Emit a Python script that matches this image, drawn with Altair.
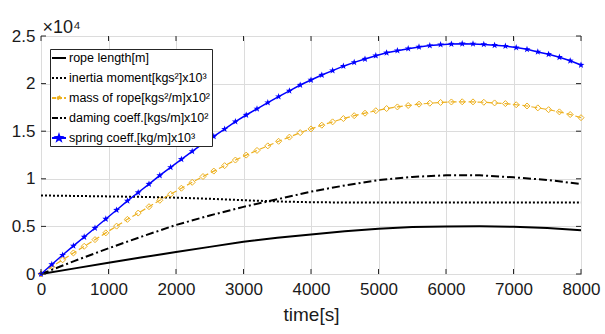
import altair as alt
import pandas as pd

# ---------------- data ----------------
T_MARKED = list(range(0, 8001, 160))
SPRING = [0, 1000, 1990, 2950, 3890, 4830, 5780, 6720, 7680, 8560,
          9450, 10350, 11200, 12050, 12880, 13690, 14450, 15220, 16000, 16700,
          17350, 18000, 18630, 19230, 19850, 20380, 20900, 21360, 21830, 22230,
          22580, 22930, 23240, 23460, 23670, 23850, 23990, 24090, 24160, 24190,
          24170, 24120, 24030, 23940, 23780, 23600, 23330, 23080, 22770, 22400,
          21950]
MASS = [0, 750, 1490, 2210, 2910, 3610, 4320, 5030, 5740, 6400,
        7070, 7740, 8380, 9010, 9630, 10240, 10810, 11380, 11970, 12490,
        12980, 13460, 13940, 14380, 14850, 15240, 15630, 15980, 16330, 16630,
        16890, 17150, 17380, 17550, 17700, 17840, 17940, 18020, 18070, 18090,
        18080, 18040, 17970, 17900, 17780, 17650, 17450, 17260, 17030, 16750,
        16420]
T_BLACK = list(range(0, 8001, 500))
ROPE = [0, 590, 1180, 1750, 2300, 2850, 3380, 3800, 4150, 4480,
        4760, 4930, 5000, 5010, 4960, 4830, 4600]
INERTIA = [8250, 8200, 8150, 8100, 8020, 7900, 7750, 7620, 7540, 7510,
           7500, 7500, 7500, 7500, 7500, 7500, 7500]
DAMPING = [0, 1380, 2700, 3950, 5150, 6150, 7050, 7850, 8650, 9300,
           9870, 10200, 10370, 10370, 10150, 9880, 9450]

X_TICKS = [0, 1000, 2000, 3000, 4000, 5000, 6000, 7000, 8000]
Y_TICKS = [0, 5000, 10000, 15000, 20000, 25000]

NAMES = ["rope length[m]",
         "inertia moment[kgs²]x10³",
         "mass of rope[kgs²/m]x10²",
         "daming coeff.[kgs/m]x10²",
         "spring coeff.[kg/m]x10³"]

rows = []
for name, ts, vs in [(NAMES[0], T_BLACK, ROPE), (NAMES[1], T_BLACK, INERTIA),
                     (NAMES[2], T_MARKED, MASS), (NAMES[3], T_BLACK, DAMPING),
                     (NAMES[4], T_MARKED, SPRING)]:
    for t, v in zip(ts, vs):
        rows.append({"t": t, "v": v, "series": name})
df = pd.DataFrame(rows)
xticks_df = pd.DataFrame({"t": X_TICKS})
yticks_df = pd.DataFrame({"v": Y_TICKS})

# ---------------- styling ----------------
FONT = "Liberation Sans"
TXT = "#1a1a1a"
BLUE = "#0000FF"
ORANGE = "#EDB120"
BLACK = "#000000"
W, H = 540, 238

xs = alt.Scale(domain=[0, 8000], nice=False, zero=False)
ys = alt.Scale(domain=[0, 25000], nice=False, zero=False)

main_x = alt.Axis(values=X_TICKS, orient="bottom", title="time[s]", format="d",
                  grid=True, gridColor="#dcdcdc",
                  ticks=False, domain=False, labelFontSize=17, labelPadding=7,
                  labelFont=FONT, labelColor=TXT, labelFlush=False, labelOverlap=False,
                  titleFont=FONT, titleFontSize=19, titleFontWeight="normal",
                  titleColor=TXT, titlePadding=8)
main_y = alt.Axis(values=Y_TICKS, orient="left", title="×10⁴",
                  labelExpr="datum.value / 10000",
                  grid=True, gridColor="#dcdcdc", ticks=False, domain=False,
                  labelFontSize=17, labelPadding=6, labelFont=FONT, labelColor=TXT,
                  labelFlush=False, labelOverlap=False,
                  titleFont=FONT, titleFontSize=18, titleFontWeight="normal",
                  titleColor=TXT, titleAngle=0, titleAlign="left",
                  titleBaseline="alphabetic", titleX=1, titleY=-4)

X = alt.X("t:Q", scale=xs, axis=main_x)
Y = alt.Y("v:Q", scale=ys, axis=main_y)

base = alt.Chart(df)

def only(i):
    return base.transform_filter(alt.datum.series == NAMES[i])

STAR_FULL = ("M0,-1L0.235,-0.324L0.951,-0.309L0.38,0.124L0.588,0.809L0,0.4"
             "L-0.588,0.809L-0.38,0.124L-0.951,-0.309L-0.235,-0.324Z")

rope = only(0).mark_line(color=BLACK, strokeWidth=2).encode(x=X, y=Y)
inertia = only(1).mark_line(color=BLACK, strokeWidth=2, strokeDash=[2, 2]).encode(x=X, y=Y)
mass_line = only(2).mark_line(color=ORANGE, strokeWidth=1.2, strokeDash=[6, 3]).encode(x=X, y=Y)
mass_pts = only(2).mark_point(shape="diamond", filled=False, color=ORANGE, size=36,
                              strokeWidth=1, opacity=1).encode(x=X, y=Y)
damping = only(3).mark_line(color=BLACK, strokeWidth=2, strokeDash=[8, 3, 2, 3]).encode(x=X, y=Y)
spring_line = only(4).mark_line(color=BLUE, strokeWidth=1.5).encode(x=X, y=Y)
spring_pts = only(4).mark_point(shape=STAR_FULL, filled=True, color=BLUE, size=52,
                                strokeWidth=0.5, opacity=1).encode(x=X, y=Y)

# inward tick marks (MATLAB style) on all four sides
TK = "#262626"
xt_bottom = alt.Chart(xticks_df).mark_rule(color=TK, strokeWidth=1).encode(
    x=X, y=alt.value(H - 5), y2=alt.value(H))
xt_top = alt.Chart(xticks_df).mark_rule(color=TK, strokeWidth=1).encode(
    x=X, y=alt.value(0), y2=alt.value(5))
yt_left = alt.Chart(yticks_df).mark_rule(color=TK, strokeWidth=1).encode(
    y=Y, x=alt.value(0), x2=alt.value(5))
yt_right = alt.Chart(yticks_df).mark_rule(color=TK, strokeWidth=1).encode(
    y=Y, x=alt.value(W - 5), x2=alt.value(W))

# legend (symbols: line segment + marker)
LINE = "M-1,0H1"
STAR = ("M0,-0.45L0.106,-0.146L0.428,-0.139L0.171,0.056L0.265,0.364L0,0.18"
        "L-0.265,0.364L-0.171,0.056L-0.428,-0.139L-0.106,-0.146Z")
DIAM = "M0,-0.32L0.22,0L0,0.32L-0.22,0Z"
PATHS = [LINE, LINE, LINE + DIAM, LINE, LINE + STAR]
STROKES = [BLACK, BLACK, ORANGE, BLACK, BLUE]
FILLS = ["transparent", "transparent", "white", "transparent", BLUE]
DASHES = [[1, 0], [2, 2], [4, 2], [6, 2, 2, 2], [1, 0]]

leg = alt.Legend(title=None, orient="none", legendX=9, legendY=13,
                 labelFont=FONT, labelFontSize=12.5, labelColor=BLACK, labelLimit=400,
                 symbolSize=196, symbolStrokeWidth=1.8, padding=1, rowPadding=5,
                 labelOffset=2, strokeColor="#262626", fillColor="white")
legend_layer = base.transform_filter("false").mark_point(opacity=1, strokeWidth=1.8).encode(
    x=X, y=Y,
    stroke=alt.Stroke("series:N", scale=alt.Scale(domain=NAMES, range=STROKES), legend=leg),
    fill=alt.Fill("series:N", scale=alt.Scale(domain=NAMES, range=FILLS), legend=leg),
    shape=alt.Shape("series:N", scale=alt.Scale(domain=NAMES, range=PATHS), legend=leg),
    strokeDash=alt.StrokeDash("series:N", scale=alt.Scale(domain=NAMES, range=DASHES), legend=leg),
)

chart = alt.layer(
    rope, inertia, mass_line, mass_pts, damping, spring_line, spring_pts,
    xt_bottom, xt_top, yt_left, yt_right, legend_layer
).properties(
    width=W, height=H,
    autosize=alt.AutoSizeParams(type="none"),
    padding={"left": 41, "top": 36, "right": 24, "bottom": 60},
    background="white",
).configure_view(stroke="#262626", strokeWidth=1)

chart.save("out.html", embed_options={"renderer": "svg", "actions": False})
